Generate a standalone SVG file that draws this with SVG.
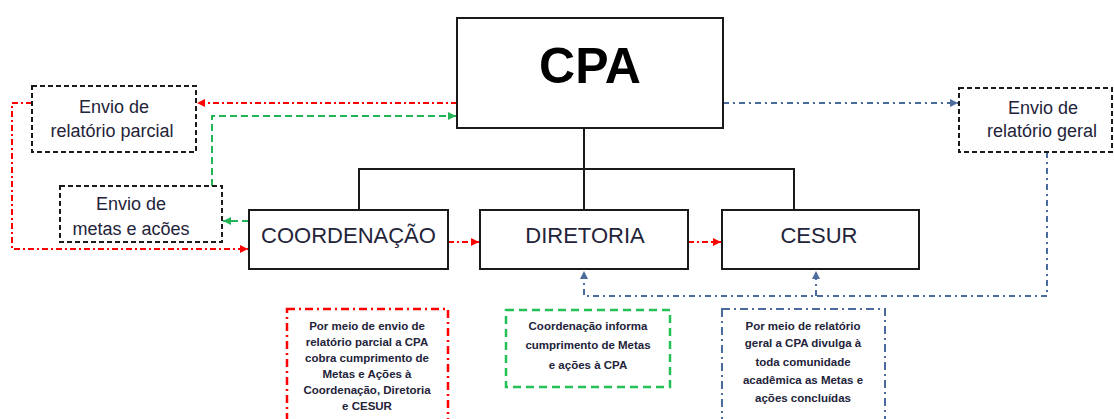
<svg xmlns="http://www.w3.org/2000/svg" width="1114" height="419" viewBox="0 0 1114 419">
<style>
.node{fill:#fff;stroke:#1a1a1a;stroke-width:2}
.env{fill:#fff;stroke:#1a1a1a;stroke-width:2;stroke-dasharray:5 3}
.t{font-family:"Liberation Sans",Arial,sans-serif;fill:#23233a;text-anchor:middle}
.big{font-size:22px}
.mid{font-size:18px}
.sm{font-size:11.5px;font-weight:bold}
.tree{fill:none;stroke:#1a1a1a;stroke-width:2}
.red{fill:none;stroke:#ff0000;stroke-width:2;stroke-dasharray:6 3 2 3}
.grn{fill:none;stroke:#22b455;stroke-width:2;stroke-dasharray:7 4}
.blu{fill:none;stroke:#4a6b9c;stroke-width:2;stroke-dasharray:6 4 2 4}
</style>
<defs>
<marker id="ar" markerUnits="userSpaceOnUse" markerWidth="9" markerHeight="9" refX="8" refY="4" orient="auto"><path d="M0,0 L8,4 L0,8 z" fill="#ff0000"/></marker>
<marker id="ag" markerUnits="userSpaceOnUse" markerWidth="9" markerHeight="9" refX="8" refY="4" orient="auto"><path d="M0,0 L8,4 L0,8 z" fill="#22b455"/></marker>
<marker id="ab" markerUnits="userSpaceOnUse" markerWidth="9" markerHeight="9" refX="8" refY="4" orient="auto"><path d="M0,0 L8,4 L0,8 z" fill="#4a6b9c"/></marker>
</defs>
<rect width="1114" height="419" fill="#fff"/>

<g id="connectors">
<path class="tree" d="M584,128 V169 M359,210 V169 H794 V210 M584,169 V210"/>
<path class="red" d="M457,103 H197" marker-end="url(#ar)"/>
<path class="red" d="M32,103 H12 V249 H248" marker-end="url(#ar)"/>
<path class="red" d="M448,242 H479" marker-end="url(#ar)"/>
<path class="red" d="M688,242 H721" marker-end="url(#ar)"/>
<path class="grn" d="M212,186 V116 H456" marker-end="url(#ag)"/>
<path class="grn" d="M249,221 H223" marker-end="url(#ag)"/>
<path class="blu" d="M723,103 H958" marker-end="url(#ab)"/>
<path class="blu" d="M1047,152 V296 H584 V271" marker-end="url(#ab)"/>
<path class="blu" d="M816,296 V271" marker-end="url(#ab)"/>
</g>

<g id="cpa">
<rect class="node" x="457" y="18" width="266" height="110"/>
<text class="t" x="590" y="83" style="font-size:50px;font-weight:bold;fill:#000">CPA</text>
</g>
<g id="envio-parcial">
<rect class="env" x="32" y="86" width="164" height="66"/>
<text class="t mid" x="114" y="113">Envio de</text>
<text class="t mid" x="112" y="137">relatório parcial</text>
</g>
<g id="envio-metas">
<rect class="env" x="60" y="186" width="162" height="56"/>
<text class="t mid" x="131" y="210">Envio de</text>
<text class="t mid" x="131" y="235">metas e acões</text>
</g>
<g id="envio-geral">
<rect class="env" x="959" y="88" width="153" height="64"/>
<text class="t mid" x="1043" y="114">Envio de</text>
<text class="t mid" x="1042" y="137">relatório geral</text>
</g>
<g id="coordenacao">
<rect class="node" x="249" y="210" width="199" height="59"/>
<text class="t big" x="348.5" y="243">COORDENAÇÃO</text>
</g>
<g id="diretoria">
<rect class="node" x="480" y="210" width="208" height="59"/>
<text class="t big" x="585" y="243">DIRETORIA</text>
</g>
<g id="cesur">
<rect class="node" x="722" y="210" width="197" height="59"/>
<text class="t big" x="819" y="243">CESUR</text>
</g>

<g id="nota-parcial">
<rect x="287" y="309" width="161" height="120" fill="none" stroke="#ff0000" stroke-width="2.5" stroke-dasharray="8 4 2 4"/>
<text class="t sm" x="367" y="330">Por meio de envio de</text>
<text class="t sm" x="367" y="346">relatório parcial a CPA</text>
<text class="t sm" x="367" y="362">cobra cumprimento de</text>
<text class="t sm" x="367" y="378">Metas e Ações à</text>
<text class="t sm" x="367" y="394">Coordenação, Diretoria</text>
<text class="t sm" x="367" y="410">e CESUR</text>
</g>
<g id="nota-metas">
<rect x="506" y="310" width="164" height="77" fill="none" stroke="#22c055" stroke-width="2.5" stroke-dasharray="8 5"/>
<text class="t sm" x="588" y="330">Coordenação informa</text>
<text class="t sm" x="588" y="349">cumprimento de Metas</text>
<text class="t sm" x="588" y="369">e ações à CPA</text>
</g>
<g id="nota-geral">
<rect x="722" y="309" width="163" height="120" fill="none" stroke="#4a6b9c" stroke-width="2" stroke-dasharray="8 4 2 4"/>
<text class="t sm" x="803" y="330">Por meio de relatório</text>
<text class="t sm" x="803" y="347">geral a CPA divulga à</text>
<text class="t sm" x="803" y="366">toda comunidade</text>
<text class="t sm" x="803" y="384">acadêmica as Metas e</text>
<text class="t sm" x="803" y="402">ações concluídas</text>
</g>
</svg>
